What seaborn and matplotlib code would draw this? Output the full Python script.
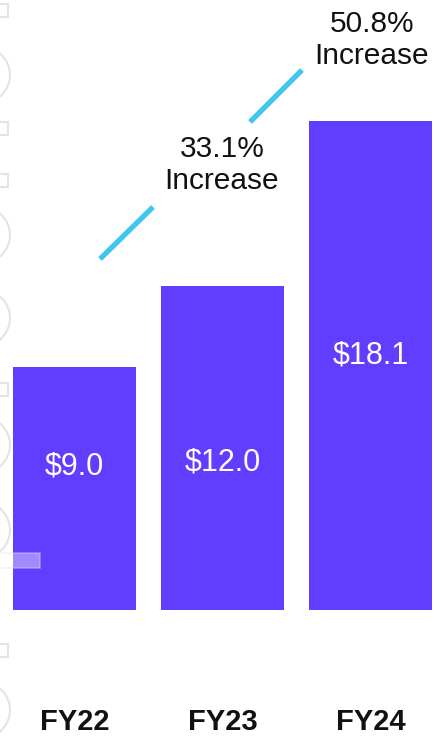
import matplotlib
matplotlib.use("Agg")
import matplotlib.pyplot as plt
from matplotlib.patches import Circle, Rectangle
import seaborn as sns
import pandas as pd

# Revenue by fiscal year ($B)
years = ["FY22", "FY23", "FY24"]
revenue = [9.0, 12.0, 18.1]
value_labels = ["$9.0", "$12.0", "$18.1"]
growth_labels = ["33.1%\nIncrease", "50.8%\nIncrease"]

BAR_COLOR = "#613DFF"
LINE_COLOR = "#3EC6F2"
DECOR_COLOR = "#E4E4E4"

sns.set_theme(style="white")
plt.rcParams["font.family"] = ["Liberation Sans", "DejaVu Sans"]

W, H = 434, 738
fig = plt.figure(figsize=(W / 100, H / 100), dpi=100)
fig.patch.set_facecolor("white")

# Axis geometry in pixels: baseline, bar spacing and vertical scale
base_px = 610
x0_px, step_px = 74.5, 148.0
px_per_unit = 27.0

ax = fig.add_axes([0, 1 - base_px / H, 1, base_px / H])
df = pd.DataFrame({"year": years, "revenue": revenue})
sns.barplot(data=df, x="year", y="revenue", color=BAR_COLOR, saturation=1,
            width=0.83, ax=ax, edgecolor="none")
ax.set_xlim(-x0_px / step_px, (W - x0_px) / step_px)
ax.set_ylim(0, base_px / px_per_unit)
ax.axis("off")


def px_to_data(px, py):
    return (px - x0_px) / step_px, (base_px - py) / px_per_unit


# Value labels inside bars
label_y_px = [467, 463, 356]
for i, (lab, py) in enumerate(zip(value_labels, label_y_px)):
    _, y = px_to_data(0, py)
    ax.text(i, y, lab, color="white", fontsize=22, ha="center", va="center")

# Category labels under the bars
_, ty = px_to_data(0, 722)
for i, lab in enumerate(years):
    ax.text(i, ty, lab, color="#111111", fontsize=21, fontweight="bold",
            ha="center", va="center", clip_on=False)

# Growth callouts: slanted segments with text between them
segments = [((100, 259), (153, 207)), ((250, 122), (302, 70))]
for (a, b) in segments:
    xa, ya = px_to_data(*a)
    xb, yb = px_to_data(*b)
    ax.plot([xa, xb], [ya, yb], color=LINE_COLOR, lw=3.8,
            solid_capstyle="butt", clip_on=False)

growth_pos = [(222, 165), (372, 40)]
for lab, (px, py) in zip(growth_labels, growth_pos):
    x, y = px_to_data(px, py)
    ax.text(x, y, lab, color="#111111", fontsize=21.5, ha="center",
            va="center", linespacing=1.2, clip_on=False)

# Decorative outline motif along the left edge (pixel coordinates)
deco = fig.add_axes([0, 0, 1, 1], zorder=5)
deco.set_xlim(0, W)
deco.set_ylim(H, 0)
deco.axis("off")
deco.patch.set_alpha(0)
for cy in [75, 235, 318, 445, 530, 710]:
    deco.add_patch(Circle((-18, cy), 28, fill=False, ec=DECOR_COLOR, lw=1.5))
for cy in [10, 128, 180, 389, 650]:
    deco.add_patch(Rectangle((-6, cy - 6.5), 14, 13, fill=False,
                             ec=DECOR_COLOR, lw=1.5))
deco.add_patch(Rectangle((-2, 553), 42, 15, fc="white", alpha=0.4,
                         ec=DECOR_COLOR, lw=1.2))

fig.savefig("out.png", dpi=100, facecolor="white")
